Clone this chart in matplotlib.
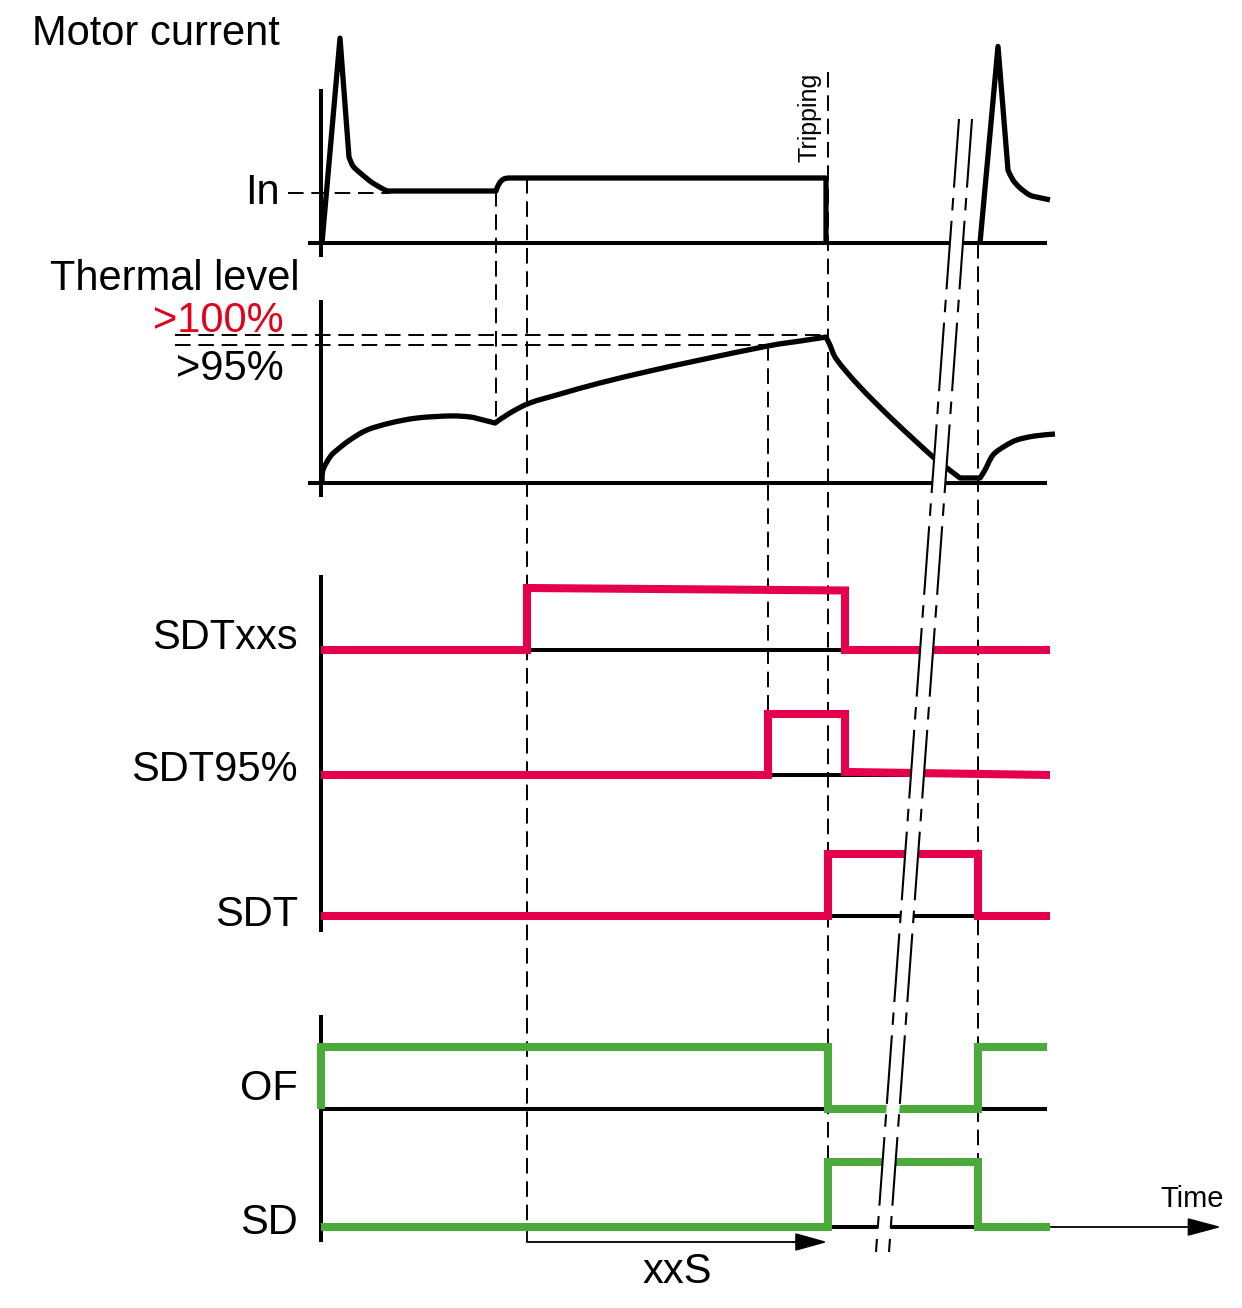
import matplotlib
matplotlib.use("Agg")
import matplotlib.pyplot as plt
import numpy as np
from matplotlib.patches import Polygon, PathPatch
from matplotlib.path import Path

plt.rcParams['font.family'] = ['Liberation Sans', 'DejaVu Sans']

RED = '#e4004b'
GREEN = '#4caa3a'

# event times (time axis in drawing units)
t0 = 321
t_in_rise = 496
t_xxs = 527
t_95 = 768
t_trip = 828
t_sdt_off = 845
t_restart = 978
t_end = 1050

# motor current, in multiples of In
current_t = [322, 340, 349, 353, 360, 373, 387, 496, 498, 501, 505, 510, 826, 826]
current_v = [0, 3.94, 1.65, 1.48, 1.35, 1.15, 1.0, 1.0, 1.10, 1.19, 1.24, 1.25, 1.25, 0]
current_corners = [340, 349, 387, 496, 510, 826]
current2_t = [980, 998, 1008, 1013, 1020, 1030, 1040, 1050]
current2_v = [0, 3.78, 1.40, 1.21, 1.06, 0.92, 0.87, 0.83]
current2_corners = [998, 1008]

# thermal level, fraction of 100 %
thermal_t = [322, 323, 330, 337, 350, 367, 390, 417, 450, 470, 483, 495, 510, 530, 560,
             600, 650, 700, 768, 800, 826, 830, 837, 860, 893, 933, 947, 960, 980, 985,
             993, 1005, 1017, 1035, 1055]
thermal_v = [0.007, 0.088, 0.176, 0.223, 0.291, 0.358, 0.405, 0.439, 0.453, 0.446, 0.426,
             0.405, 0.473, 0.541, 0.601, 0.676, 0.757, 0.831, 0.926, 0.959, 0.986, 0.932,
             0.831, 0.649, 0.426, 0.176, 0.101, 0.034, 0.034, 0.088, 0.189, 0.250, 0.291,
             0.318, 0.331]
thermal_corners = [495, 826, 960, 980]
level_100 = 1.0
level_95 = 0.93

# logic outputs: time of each corner and level (0 = low, 1 = high)
sdtxxs_t = [t0, t_xxs, t_xxs, t_sdt_off, t_sdt_off, t_end]
sdtxxs_v = [0, 0, 1, 0.96, 0, 0]
sdt95_t = [t0, t_95, t_95, t_sdt_off, t_sdt_off, t_end]
sdt95_v = [0, 0, 1, 1, 0.05, 0]
sdt_t = [t0, t_trip, t_trip, t_restart, t_restart, t_end]
sdt_v = [0, 0, 1, 1, 0, 0]
of_t = [t0, t0, t_trip, t_trip, t_restart, t_restart, 1047]
of_v = [0, 1, 1, 0, 0, 1, 1]
sd_t = [t0, t_trip, t_trip, t_restart, t_restart, t_end]
sd_v = [0, 0, 1, 1, 0, 0]

# rows: name, baseline, height, label baseline, signal, colour
rows = [
    ('SDTxxs', 650, 62, 649, sdtxxs_t, sdtxxs_v, RED),
    ('SDT95%', 775, 61, 781, sdt95_t, sdt95_v, RED),
    ('SDT', 916, 62, 926, sdt_t, sdt_v, RED),
    ('OF', 1109, 62, 1100, of_t, of_v, GREEN),
    ('SD', 1227, 65, 1234, sd_t, sd_v, GREEN),
]

CUR_BASE, CUR_SCALE = 243, 52
TH_BASE, TH_SCALE = 483, 148


def cur_y(v):
    return CUR_BASE - CUR_SCALE * v


def th_y(v):
    return TH_BASE - TH_SCALE * v


def smooth_path(xs, ys, corners):
    # Catmull-Rom through the points, breaking at the corner times
    pts = np.column_stack([xs, ys]).astype(float)
    cuts = [0]
    for c in corners:
        cuts.append(list(xs).index(c))
    cuts.append(len(xs) - 1)
    verts = [pts[0]]
    codes = [Path.MOVETO]
    for a, b in zip(cuts[:-1], cuts[1:]):
        seg = pts[a:b + 1]
        n = len(seg)
        for i in range(n - 1):
            p0 = seg[i - 1] if i > 0 else seg[i]
            p1, p2 = seg[i], seg[i + 1]
            p3 = seg[i + 2] if i + 2 < n else seg[i + 1]
            verts += [p1 + (p2 - p0) / 6, p2 - (p3 - p1) / 6, p2]
            codes += [Path.CURVE4] * 3
    return Path(verts, codes)


fig = plt.figure(figsize=(12.42, 13.08), dpi=100)
ax = fig.add_axes([0, 0, 1, 1])
ax.set_xlim(0, 1242)
ax.set_ylim(1308, 0)
ax.axis('off')

blk = dict(color='black', lw=2.9, solid_capstyle='butt')
dash = dict(color='black', lw=1.4, ls=(0, (8, 4)), zorder=1.5)
curve = dict(facecolor='none', edgecolor='black', lw=3.8, joinstyle='round',
             capstyle='butt', zorder=3)

# motor current panel
ax.plot([t0, t0], [89, 257], **blk)
ax.plot([308, 1047], [CUR_BASE, CUR_BASE], **blk)
ax.add_patch(PathPatch(smooth_path(current_t, [cur_y(v) for v in current_v],
                                   current_corners), **curve))
ax.add_patch(PathPatch(smooth_path(current2_t, [cur_y(v) for v in current2_v],
                                   current2_corners), **curve))
ax.plot([288, 390], [cur_y(1.0) + 2, cur_y(1.0) + 2], **dash)

# thermal panel
ax.plot([t0, t0], [300, 497], **blk)
ax.plot([308, 1047], [TH_BASE, TH_BASE], **blk)
ax.add_patch(PathPatch(smooth_path(thermal_t, [th_y(v) for v in thermal_v],
                                   thermal_corners), **curve))
ax.plot([175, t_trip], [th_y(level_100), th_y(level_100)], **dash)
ax.plot([175, t_95], [th_y(level_95), th_y(level_95)], **dash)

# logic panels
ax.plot([t0, t0], [575, 932], **blk)
ax.plot([t0, t0], [1015, 1242], **blk)
for name, base, h, lab_y, ts, vs, col in rows:
    ax.plot([t0, 1047], [base, base], **blk)
    ax.plot(ts, [base - h * v for v in vs], color=col, lw=5.8,
            solid_joinstyle='miter', solid_capstyle='butt', zorder=3)
    ax.text(298, lab_y, name, fontsize=30, ha='right', va='baseline')

# vertical guide lines
ax.plot([t_in_rise, t_in_rise], [cur_y(1.0), th_y(0.405)], **dash)
ax.plot([t_xxs, t_xxs], [cur_y(1.25), 1228], **dash)
ax.plot([t_95, t_95], [th_y(level_95), 775], **dash)
ax.plot([t_trip, t_trip], [72, 1228], **dash)
ax.plot([t_restart, t_restart], [CUR_BASE, 1162], **dash)

# xxS duration arrow
ax.plot([t_xxs, t_xxs, 805], [1228, 1242, 1242], color='black', lw=1.3)
ax.annotate('', xy=(t_trip + 2, 1242), xytext=(790, 1242),
            arrowprops=dict(arrowstyle='-|>,head_length=1.0,head_width=0.28',
                            mutation_scale=20, color='black', lw=1.3))
ax.text(677, 1283, 'xxS', fontsize=30, ha='center', va='baseline')

# time axis arrow
ax.annotate('', xy=(1224, 1227), xytext=(1048, 1227),
            arrowprops=dict(arrowstyle='-|>,head_length=1.05,head_width=0.28',
                            mutation_scale=20, color='black', lw=1.3))
ax.text(1192, 1207, 'Time', fontsize=21, ha='center', va='baseline')

# break in the time axis
y_top, y_bot = 119, 1252
x_top, x_bot = 959, 876
gap = 13
ax.add_patch(Polygon([(x_top, y_top), (x_top + gap, y_top), (x_bot + gap, y_bot), (x_bot, y_bot)],
                     closed=True, facecolor='white', edgecolor='none', zorder=5))
for dx in (0, gap):
    ax.plot([x_top + dx, x_bot + dx], [y_top, y_bot], color='black', lw=1.5,
            ls=(0, (33, 5, 6, 5)), zorder=6)

# labels
ax.text(32, 45, 'Motor current', fontsize=30, ha='left', va='baseline')
ax.text(280, 204, 'In', fontsize=30, ha='right', va='baseline')
ax.text(50, 290, 'Thermal level', fontsize=30, ha='left', va='baseline')
ax.text(153, 332, '>100%', fontsize=30, color='#e2001a', ha='left', va='baseline')
ax.text(176, 380, '>95%', fontsize=30, ha='left', va='baseline')
ax.text(809, 117, 'Tripping', fontsize=18, rotation=90, ha='center', va='center')

fig.savefig('out.png', dpi=100)
